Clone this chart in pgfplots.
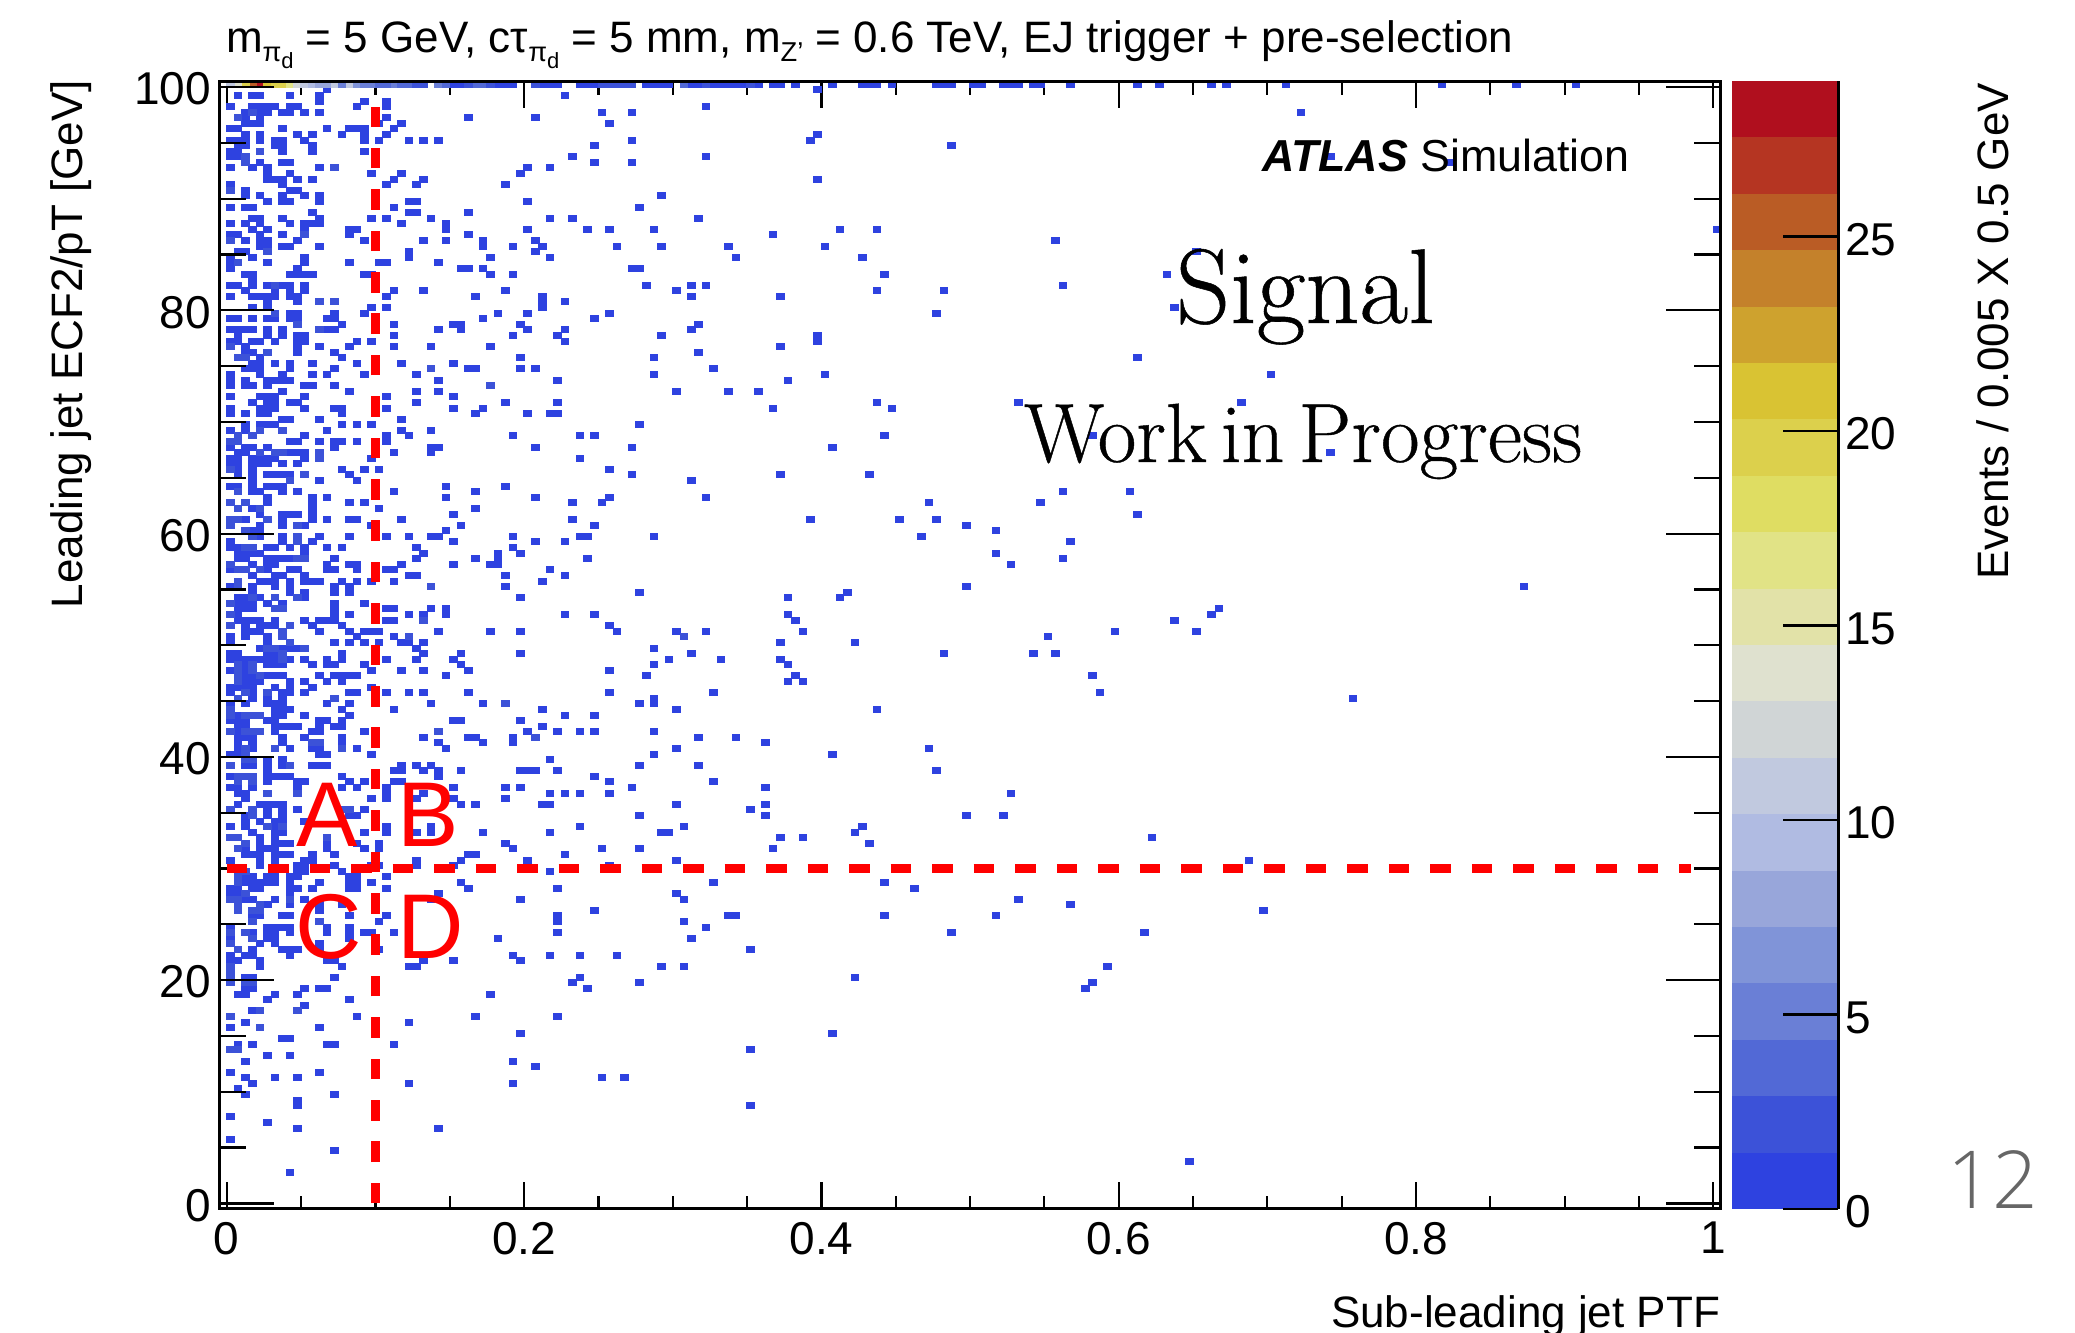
\documentclass[border=0pt]{standalone}
\usepackage{pgfplots}
\pgfplotsset{compat=1.18}
\usepackage{pgfplotstable}
\usepackage{fontspec}
\setmainfont{Liberation Sans}
\newfontfamily\didot[FakeBold=0.5,WordSpace=0.55]{Latin Modern Roman}
\newfontfamily\pagefont{Open Sans Light}
\definecolor{b1}{HTML}{2E42E0}\definecolor{b2}{HTML}{3C52D8}\definecolor{b3}{HTML}{5269D6}\definecolor{b4}{HTML}{6A7FD6}
\definecolor{b5}{HTML}{8094D8}\definecolor{b6}{HTML}{98A6DA}\definecolor{b7}{HTML}{B0BBE2}\definecolor{b8}{HTML}{C1C9DF}
\definecolor{b9}{HTML}{D0D5D6}\definecolor{b10}{HTML}{DFE1CF}\definecolor{b11}{HTML}{E2E2A8}\definecolor{b12}{HTML}{E1E386}
\definecolor{b13}{HTML}{DFDD62}\definecolor{b14}{HTML}{DCD04C}\definecolor{b15}{HTML}{D9C333}\definecolor{b16}{HTML}{CEA22E}
\definecolor{b17}{HTML}{C4812B}\definecolor{b18}{HTML}{BA5C25}\definecolor{b19}{HTML}{B53522}\definecolor{b20}{HTML}{B00F1E}
\pgfdeclareplotmark{cell}{\pgfpathrectangle{\pgfpoint{-.29pt}{-.35pt}}{\pgfpoint{4.3pt}{3.5pt}}\pgfusepathqfill}
\newcommand\cells[2]{\addplot[only marks,mark=cell,mark options={fill=#1,draw=none}] coordinates {#2};}
\newcommand\band[3]{\addplot[fill=#1,draw=none] coordinates {(0,#2)(1,#2)(1,#3)(0,#3)} --cycle;}
\newcommand\subpi{\raisebox{-.35ex}{\scalebox{.62}{π}\raisebox{-.3ex}{\scalebox{.5}{d}}}}
\pgfplotstableread{
x y
.15 100
.155 100
.18 100
.185 100
.19 100
.21 100
.215 100
.22 100
.235 100
.24 100
.245 100
.28 100
.285 100
.29 100
.295 100
.31 100
.315 100
.325 100
.33 100
.335 100
.34 100
.345 100
.355 100
.365 100
.37 100
.38 100
.405 100
.425 100
.43 100
.435 100
.445 100
.475 100
.48 100
.485 100
.5 100
.505 100
.52 100
.525 100
.53 100
.54 100
.545 100
.565 100
.61 100
.625 100
.66 100
.67 100
.71 100
.815 100
.865 100
.905 100
.065 99.5
.395 99.5
.005 99
.015 99
.02 99
.04 99
.06 99
.225 99
.06 98.5
.09 98.5
.105 98.5
0 98
.015 98
.02 98
.025 98
.03 98
.04 98
.045 98
.085 98
.105 98
.32 98
.01 97.5
.02 97.5
.025 97.5
.035 97.5
.04 97.5
.05 97.5
.06 97.5
.25 97.5
.27 97.5
.72 97.5
.01 97
.02 97
.105 97
.16 97
.205 97
.01 96.5
.015 96.5
.02 96.5
.1 96.5
.115 96.5
.255 96.5
0 96
.005 96
.035 96
.065 96
.08 96
.085 96
.09 96
.11 96
.01 95.5
.02 95.5
.045 95.5
.055 95.5
.075 95.5
.09 95.5
.105 95.5
.395 95.5
0 95
.005 95
.01 95
.02 95
.03 95
.035 95
.05 95
.09 95
.1 95
.12 95
.13 95
.14 95
.27 95
.39 95
.005 94.5
.01 94.5
.03 94.5
.035 94.5
.055 94.5
.245 94.5
.485 94.5
0 94
.005 94
.035 94
.055 94
.09 94
0 93.5
.005 93.5
.23 93.5
.32 93.5
.74 93.5
.02 93
.035 93
.04 93
.245 93
.27 93
.82 93
0 92.5
.015 92.5
.025 92.5
.06 92.5
.07 92.5
.2 92.5
.215 92.5
.025 92
.04 92
.095 92
.115 92
.195 92
.025 91.5
.03 91.5
.035 91.5
.045 91.5
.055 91.5
.11 91.5
.13 91.5
.395 91.5
0 91
.035 91
.105 91
.125 91
.185 91
.01 90.5
.04 90.5
.045 90.5
.01 90
.02 90
.035 90
.05 90
.06 90
.29 90
.025 89.5
.035 89.5
.04 89.5
.06 89.5
.12 89.5
.125 89.5
.2 89.5
0 89
.01 89
.015 89
.11 89
.275 89
.055 88.5
.12 88.5
.125 88.5
.16 88.5
.015 88
.02 88
.035 88
.06 88
.095 88
.105 88
.135 88
.215 88
.23 88
.315 88
0 87.5
.01 87.5
.02 87.5
.04 87.5
.05 87.5
.055 87.5
.06 87.5
.115 87.5
.145 87.5
.015 87
.025 87
.05 87
.08 87
.085 87
.145 87
.2 87
.24 87
.255 87
.285 87
.41 87
.435 87
1 87
0 86.5
.005 86.5
.02 86.5
.035 86.5
.08 86.5
.16 86.5
.365 86.5
.01 86
.02 86
.025 86
.045 86
.09 86
.13 86
.145 86
.17 86
.205 86
.555 86
.02 85.5
.025 85.5
.035 85.5
.04 85.5
.06 85.5
.17 85.5
.19 85.5
.21 85.5
.26 85.5
.29 85.5
.335 85.5
.4 85.5
.005 85
.01 85
.12 85
.205 85
.65 85
0 84.5
.015 84.5
.05 84.5
.12 84.5
.175 84.5
.215 84.5
.34 84.5
.425 84.5
0 84
.025 84
.05 84
.08 84
.1 84
.105 84
.14 84
0 83.5
.045 83.5
.155 83.5
.16 83.5
.17 83.5
.27 83.5
.275 83.5
.01 83
.015 83
.04 83
.045 83
.05 83
.055 83
.09 83
.095 83
.175 83
.19 83
.44 83
.63 83
.015 82.5
0 82
.005 82
.015 82
.025 82
.035 82
.04 82
.05 82
.28 82
.31 82
.32 82
.56 82
.01 81.5
.03 81.5
.04 81.5
.05 81.5
.11 81.5
.13 81.5
.185 81.5
.3 81.5
.435 81.5
.48 81.5
0 81
.015 81
.02 81
.025 81
.03 81
.04 81
.045 81
.105 81
.165 81
.21 81
.31 81
.37 81
.025 80.5
.045 80.5
.21 80.5
.225 80.5
.015 80
.025 80
.095 80
.105 80
.21 80
.635 80
.04 79.5
.045 79.5
.07 79.5
.09 79.5
.18 79.5
.2 79.5
.255 79.5
.475 79.5
0 79
.005 79
.015 79
.025 79
.03 79
.04 79
.045 79
.065 79
.07 79
.17 79
.245 79
.075 78.5
.11 78.5
.15 78.5
.155 78.5
.195 78.5
.315 78.5
0 78
.005 78
.01 78
.015 78
.025 78
.035 78
.065 78
.07 78
.14 78
.155 78
.2 78
.225 78
.31 78
.005 77.5
.025 77.5
.035 77.5
.045 77.5
.05 77.5
.11 77.5
.19 77.5
.22 77.5
.29 77.5
.395 77.5
0 77
.005 77
.015 77
.02 77
.03 77
.045 77
.05 77
.085 77
.095 77
.225 77
.395 77
.01 76.5
.045 76.5
.06 76.5
.08 76.5
.11 76.5
.135 76.5
.175 76.5
.37 76.5
.01 76
.015 76
.045 76
.07 76
.315 76
.02 75.5
.075 75.5
.195 75.5
.285 75.5
.61 75.5
.015 75
.02 75
.03 75
.04 75
.055 75
.085 75
.115 75
.15 75
.01 74.5
.015 74.5
.02 74.5
.04 74.5
.07 74.5
.16 74.5
.165 74.5
.195 74.5
.205 74.5
.325 74.5
0 74
.02 74
.035 74
.055 74
.065 74
.09 74
.125 74
.285 74
.4 74
.7 74
0 73.5
.01 73.5
.025 73.5
.03 73.5
.035 73.5
.04 73.5
.14 73.5
.22 73.5
.375 73.5
0 73
.01 73
.015 73
.025 73
.05 73
.055 73
.07 73
.035 72.5
.08 72.5
.125 72.5
.14 72.5
.3 72.5
.335 72.5
.355 72.5
0 72
.02 72
.025 72
.03 72
.05 72
.105 72
.15 72
.015 71.5
.025 71.5
.03 71.5
.04 71.5
.045 71.5
.125 71.5
.185 71.5
.22 71.5
.435 71.5
.53 71.5
.68 71.5
0 71
.02 71
.025 71
.03 71
.05 71
.07 71
.075 71
.105 71
.15 71
.17 71
.365 71
.445 71
0 70.5
.01 70.5
.02 70.5
.025 70.5
.075 70.5
.165 70.5
.2 70.5
.215 70.5
.22 70.5
.035 70
.04 70
.06 70
.115 70
.01 69.5
.02 69.5
.025 69.5
.03 69.5
.075 69.5
.085 69.5
.095 69.5
.275 69.5
0 69
.01 69
.065 69
.115 69
.135 69
.05 68.5
.105 68.5
.12 68.5
.19 68.5
.235 68.5
.245 68.5
.44 68.5
.58 68.5
.04 68
.045 68
.06 68
.07 68
.075 68
.085 68
.105 68
0 67.5
.01 67.5
.015 67.5
.025 67.5
.07 67.5
.135 67.5
.14 67.5
.205 67.5
.27 67.5
.405 67.5
.005 67
.01 67
.04 67
.045 67
.05 67
.11 67
.135 67
.74 67
0 66.5
.005 66.5
.015 66.5
.02 66.5
.025 66.5
.03 66.5
.05 66.5
.095 66.5
.235 66.5
0 66
.005 66
.015 66
.02 66
.025 66
.035 66
.045 66
.005 65.5
.015 65.5
.075 65.5
.09 65.5
.1 65.5
.255 65.5
.005 65
.015 65
.025 65
.03 65
.035 65
.04 65
.08 65
.27 65
.37 65
.43 65
.015 64.5
.06 64.5
.085 64.5
.31 64.5
0 64
.005 64
.015 64
.025 64
.03 64
.035 64
.145 64
.185 64
.035 63.5
.045 63.5
.015 63.5
.02 63.5
.11 63.5
.165 63.5
.56 63.5
.605 63.5
.025 63
.055 63
.065 63
.145 63
.205 63
.255 63
.32 63
.025 62.5
.055 62.5
.08 62.5
.09 62.5
.23 62.5
.25 62.5
.47 62.5
.545 62.5
.015 62
.055 62
.1 62
.165 62
.035 61.5
.04 61.5
.045 61.5
.02 61.5
.055 61.5
.15 61.5
.61 61.5
.005 61
.01 61
.035 61
.055 61
.065 61
.08 61
.085 61
.115 61
.23 61
.39 61
.45 61
.475 61
.02 60.5
.035 60.5
.05 60.5
.095 60.5
.155 60.5
.245 60.5
.495 60.5
.015 60
.02 60
.145 60
.515 60
.02 59.5
.035 59.5
.06 59.5
.08 59.5
.105 59.5
.12 59.5
.135 59.5
.14 59.5
.19 59.5
.235 59.5
.24 59.5
.285 59.5
.465 59.5
0 59
.035 59
.055 59
.15 59
.205 59
.225 59
.565 59
0 58.5
.005 58.5
.025 58.5
.03 58.5
.04 58.5
.05 58.5
.065 58.5
.075 58.5
.125 58.5
.19 58.5
.005 58
.01 58
.015 58
.02 58
.05 58
.13 58
.18 58
.195 58
.515 58
.005 57.5
.01 57.5
.025 57.5
.03 57.5
.035 57.5
.04 57.5
.07 57.5
.125 57.5
.165 57.5
.18 57.5
.24 57.5
.56 57.5
.015 57
.025 57
.03 57
.065 57
.08 57
.085 57
.115 57
.15 57
.175 57
.18 57
.525 57
0 56.5
.025 56.5
.04 56.5
.045 56.5
.065 56.5
.07 56.5
.085 56.5
.105 56.5
.11 56.5
.215 56.5
.015 56
.03 56
.035 56
.05 56
.12 56
.125 56
.185 56
.225 56
.02 55.5
.025 55.5
.03 55.5
.04 55.5
.05 55.5
.055 55.5
.06 55.5
.075 55.5
.085 55.5
.095 55.5
.11 55.5
.21 55.5
0 55
.015 55
.03 55
.04 55
.07 55
.08 55
.185 55
.495 55
.87 55
.015 54.5
.04 54.5
.05 54.5
.07 54.5
.08 54.5
.275 54.5
.415 54.5
.005 54
.01 54
.02 54
.05 54
.195 54
.375 54
.41 54
.005 53.5
.01 53.5
.015 53.5
.025 53.5
.035 53.5
.07 53.5
.09 53.5
.005 53
.01 53
.015 53
.035 53
.07 53
.105 53
.11 53
.135 53
.145 53
.665 53
.005 52.5
.07 52.5
.08 52.5
.12 52.5
.13 52.5
.145 52.5
.225 52.5
.245 52.5
.375 52.5
.66 52.5
.005 52
.01 52
.015 52
.02 52
.03 52
.05 52
.06 52
.065 52
.07 52
.105 52
.11 52
.38 52
.635 52
.01 51.5
.02 51.5
.025 51.5
.03 51.5
.055 51.5
.075 51.5
.255 51.5
.01 51
.015 51
.02 51
.06 51
.08 51
.09 51
.095 51
.1 51
.14 51
.175 51
.195 51
.26 51
.3 51
.32 51
.385 51
.595 51
.65 51
0 50.5
.01 50.5
.025 50.5
.085 50.5
.11 50.5
.55 50.5
0 50
.025 50
.07 50
.08 50
.09 50
.1 50
.115 50
.12 50
.13 50
.37 50
.42 50
.02 49.5
.035 49.5
.04 49.5
.045 49.5
.125 49.5
.285 49.5
0 49
.005 49
.025 49
.03 49
.075 49
.13 49
.155 49
.195 49
.31 49
.48 49
.54 49
.555 49
0 48.5
.005 48.5
.01 48.5
.015 48.5
.02 48.5
.025 48.5
.03 48.5
.04 48.5
.05 48.5
.065 48.5
.075 48.5
.105 48.5
.125 48.5
.15 48.5
.295 48.5
.33 48.5
.37 48.5
.005 48
.01 48
.025 48
.03 48
.035 48
.055 48
.065 48
.07 48
.09 48
.155 48
.285 48
.375 48
0 47.5
.01 47.5
.095 47.5
.115 47.5
.13 47.5
.16 47.5
.255 47.5
.01 47
.015 47
.025 47
.03 47
.035 47
.06 47
.07 47
.075 47
.08 47
.085 47
.145 47
.28 47
.38 47
.58 47
.01 46.5
.015 46.5
.02 46.5
.04 46.5
.05 46.5
.065 46.5
.075 46.5
.375 46.5
.385 46.5
0 46
.005 46
.01 46
.015 46
.03 46
.04 46
.055 46
.095 46
0 45.5
.015 45.5
.035 45.5
.04 45.5
.05 45.5
.08 45.5
.085 45.5
.105 45.5
.12 45.5
.13 45.5
.16 45.5
.255 45.5
.325 45.5
.585 45.5
.015 45
.025 45
.035 45
.285 45
.755 45
0 44.5
.01 44.5
.025 44.5
.03 44.5
.035 44.5
.065 44.5
.08 44.5
.135 44.5
.17 44.5
.275 44.5
.285 44.5
.03 44
.035 44
.04 44
.075 44
.11 44
.21 44
.3 44
.435 44
.005 43.5
.03 43.5
.035 43.5
.05 43.5
.08 43.5
.225 43.5
.245 43.5
0 43
.005 43
.01 43
.025 43
.03 43
.06 43
.065 43
.075 43
.15 43
.155 43
.195 43
.005 42.5
.01 42.5
.03 42.5
.035 42.5
.04 42.5
.045 42.5
.06 42.5
.07 42.5
.075 42.5
.21 42.5
.005 42
.03 42
.055 42
.06 42
.09 42
.2 42
.22 42
.235 42
.245 42
.285 42
.005 41.5
.01 41.5
.015 41.5
.035 41.5
.05 41.5
.075 41.5
.13 41.5
.16 41.5
.165 41.5
.19 41.5
.315 41.5
.34 41.5
.005 41
.015 41
.035 41
.075 41
.14 41
.17 41
.19 41
.36 41
.005 40.5
.015 40.5
.04 40.5
.055 40.5
.06 40.5
.085 40.5
.145 40.5
.3 40.5
.47 40.5
0 40
.005 40
.06 40
.065 40
.095 40
.285 40
.405 40
.025 39.5
.035 39.5
.215 39.5
.01 39
.015 39
.025 39
.035 39
.055 39
.06 39
.065 39
.115 39
.125 39
.135 39
.275 39
.315 39
.025 38.5
.11 38.5
.115 38.5
.13 38.5
.14 38.5
.155 38.5
.195 38.5
.2 38.5
.205 38.5
.22 38.5
.475 38.5
0 38
.025 38
.03 38
.035 38
.04 38
.075 38
.14 38
.245 38
.025 37.5
.045 37.5
.05 37.5
.08 37.5
.09 37.5
.11 37.5
.115 37.5
.255 37.5
.325 37.5
0 37
.005 37
.015 37
.045 37
.075 37
.085 37
.105 37
.15 37
.185 37
.195 37
.27 37
.36 37
.005 36.5
.01 36.5
.105 36.5
.13 36.5
.215 36.5
.225 36.5
.235 36.5
.255 36.5
.525 36.5
.01 36
.095 36
.105 36
.125 36
.15 36
.185 36
.005 35.5
.02 35.5
.025 35.5
.03 35.5
.035 35.5
.155 35.5
.165 35.5
.21 35.5
.215 35.5
.3 35.5
.36 35.5
.025 35
.035 35
.045 35
.09 35
.35 35
.01 34.5
.025 34.5
.035 34.5
.08 34.5
.085 34.5
.275 34.5
.36 34.5
.495 34.5
.52 34.5
.01 34
.02 34
.03 34
.035 34
.05 34
0 33.5
.01 33.5
.03 33.5
.105 33.5
.135 33.5
.235 33.5
.305 33.5
.425 33.5
.015 33
.03 33
.035 33
.09 33
.105 33
.125 33
.135 33
.17 33
.215 33
.29 33
.295 33
.42 33
.02 32.5
.03 32.5
.37 32.5
.385 32.5
.62 32.5
.02 32
.03 32
.035 32
.04 32
.065 32
.085 32
.1 32
.185 32
.43 32
.01 31.5
.02 31.5
.025 31.5
.03 31.5
.065 31.5
.09 31.5
.1 31.5
.19 31.5
.25 31.5
.275 31.5
.365 31.5
.01 31
.015 31
.02 31
.03 31
.035 31
.04 31
.055 31
.07 31
.16 31
.165 31
.225 31
0 30.5
.02 30.5
.03 30.5
.05 30.5
.055 30.5
.125 30.5
.155 30.5
.2 30.5
.3 30.5
.685 30.5
.02 30
.045 30
.05 30
.07 30
.095 30
.1 30
.125 30
.15 30
.255 30
.03 29.5
.045 29.5
.05 29.5
.075 29.5
.215 29.5
.01 29
.015 29
.025 29
.03 29
.04 29
.045 29
.08 29
.085 29
.105 29
.01 28.5
.015 28.5
.02 28.5
.025 28.5
.03 28.5
.04 28.5
.06 28.5
.08 28.5
.085 28.5
.095 28.5
.155 28.5
.325 28.5
.44 28.5
0 28
.005 28
.015 28
.02 28
.04 28
.045 28
.055 28
.08 28
.085 28
.105 28
.16 28
.22 28
.46 28
0 27.5
.005 27.5
.04 27.5
.14 27.5
.3 27.5
.01 27
.015 27
.03 27
.05 27
.135 27
.195 27
.305 27
.53 27
.025 26.5
.04 26.5
.06 26.5
.075 26.5
.565 26.5
.06 26
.245 26
.695 26
.015 25.5
.02 25.5
.035 25.5
.04 25.5
.08 25.5
.105 25.5
.22 25.5
.335 25.5
.34 25.5
.44 25.5
.515 25.5
.1 25
.22 25
.305 25
0 24.5
.025 24.5
.03 24.5
.035 24.5
.04 24.5
.065 24.5
.08 24.5
.32 24.5
.015 24
.025 24
.03 24
.04 24
.065 24
.08 24
.09 24
.095 24
.11 24
.22 24
.485 24
.615 24
0 23.5
.025 23.5
.03 23.5
.08 23.5
.18 23.5
.31 23.5
.02 23
.03 23
.06 23
.015 22.5
.035 22.5
.04 22.5
.045 22.5
.06 22.5
.1 22.5
.35 22.5
0 22
.01 22
.015 22
.04 22
.19 22
.215 22
.235 22
.26 22
0 21.5
.005 21.5
.02 21.5
.065 21.5
.07 21.5
.13 21.5
.15 21.5
.195 21.5
.02 21
.075 21
.12 21
.125 21
.29 21
.305 21
.59 21
.01 20
.015 20
.07 20
.235 20
.42 20
.23 19.5
.275 19.5
.58 19.5
.01 19
.015 19
.05 19
.06 19
.065 19
.24 19
.575 19
.005 18.5
.01 18.5
.03 18.5
.045 18.5
.175 18.5
.025 18
.08 18
.05 17.5
.015 17
.085 16.5
.165 16.5
.22 16.5
.01 16
.12 16
0 15.5
.06 15.5
.195 15
.405 15
.035 14.5
.04 14.5
.005 14
.015 14
.065 14
.07 14
.11 14
.025 13
.04 13
.35 13.5
.01 12.5
.19 12.5
.205 12
0 11.5
.06 11.5
.01 11
.03 11
.045 11
.25 11
.265 11
.015 10.5
.12 10.5
.19 10.5
.005 10
.01 9.5
.07 9.5
.045 9
.045 8.5
.35 8.5
0 7.5
.025 7
.045 6.5
.14 6.5
0 5.5
.07 4.5
.645 3.5
.04 2.5
}\tA
\pgfplotstableread{
x y
.005 97
.015 97.5
0 90.5
.01 93.5
.01 93
.02 94
.07 92.5
.05 86.5
0 86
.025 85
.005 84
.06 80.5
.07 80.5
.03 82
.03 79.5
.045 78.5
.06 78
0 76.5
.025 76
.005 75.5
.01 75.5
.135 74.5
.175 73
.02 69
.035 69
.005 68.5
.015 68.5
0 68
.005 68
.02 67
.03 67
.035 67
.06 67
.06 66.5
0 65.5
.05 65
.04 64.5
.005 63.5
0 62.5
.01 62.5
.005 62
.02 62
.005 61
0 61
.025 61
0 60.5
.045 60.5
.01 60
.015 59.5
.045 59.5
.045 59
.01 58.5
.015 58.5
.045 57.5
.05 57.5
0 57
.005 56.5
.01 56.5
.02 56.5
.005 55.5
.005 55
.135 55
.015 54
.03 54
.045 54
0 53.5
.03 53
.035 53
0 52.5
.13 52
0 51.5
.04 51.5
.035 51
.035 50.5
.12 50.5
.305 50.5
.04 50
.025 49.5
.03 49.5
.05 49.5
.035 49
.035 48.5
.005 48
.015 48
.005 47.5
.015 47.5
.005 47
.02 47
.005 46.5
.01 45.5
.025 45.5
.005 45
.07 45
.185 44.5
0 44
0 43.5
.01 43.5
.015 43.5
.02 43.5
0 42
.01 42
.015 42
.02 42
.14 42
.205 41.5
.055 41
.06 41
.01 40.5
.03 40.5
.075 40.5
.01 40
.01 39.5
.015 39.5
0 39
.04 39
.005 38
.01 38
.015 38
.005 37.5
.015 37.5
.025 36.5
.045 36.5
0 35
.015 35
.075 35
.08 35
.015 34.5
.025 33.5
.035 33.5
0 32.5
.005 32.5
.065 32.5
.01 32
.005 31.5
.01 29.5
.005 29
.005 28.5
.01 27.5
0 27
.005 27
.04 27
.005 26.5
.02 26.5
.005 26
.015 26
.02 26
.015 25
.06 25
0 24
.01 24
.015 23.5
0 23
.005 22.5
0 21
0 20.5
0 20
0 19.5
.01 19.5
.015 19.5
.02 17
.045 17
.02 15.5
0 13.5
.005 13.5
0 16.5
}\tB
\begin{document}
\begin{tikzpicture}
\path[use as bounding box] (0,0) rectangle (1037.5pt,666pt);
\begin{axis}[at={(109.65pt,61.5pt)},anchor=south west,scale only axis,width=750.75pt,height=563.75pt,
 xmin=-.005,xmax=1.005,ymin=-.5,ymax=100.5,axis on top,
 xtick={0,.2,.4,.6,.8,1},xticklabels={0,0.2,0.4,0.6,0.8,1},
 ytick=\empty,
 minor x tick num=3,tick align=inside,tick pos=both,
 major tick length=13.5pt,minor tick length=6.75pt,
 axis line style={line width=1.5pt},
 tick style={line width=1.1pt,black},
 ticklabel style={font=\fontsize{23}{27}\selectfont},
 x tick label style={yshift=-3pt},
 clip=true]
\addplot[only marks,mark=cell,mark options={fill=b1,draw=none}] table {\tA};
\addplot[only marks,mark=cell,mark options={fill=b2,draw=none}] table {\tB};
\cells{b20}{(.02,100)}
\cells{b18}{(.015,100)}
\cells{b15}{(.025,100)}
\cells{b14}{(.01,100)(.03,100)(.035,100)}
\cells{b12}{(.04,100)}
\cells{b10}{(.005,100)}
\cells{b9}{(.045,100)}
\cells{b8}{(0,100)(.05,100)(.07,100)(.08,100)}
\cells{b7}{(.055,100)}
\cells{b6}{(.06,100)(.065,100)}
\cells{b5}{(.085,100)}
\cells{b4}{(.075,100)(.09,100)(.095,100)(.11,100)(.14,100)}
\cells{b3}{(.1,100)(.105,100)(.115,100)(.12,100)(.145,100)(.165,100)(.17,100)(.305,100)}
\cells{b2}{(.125,100)(.13,100)(.16,100)(.175,100)(.205,100)(.25,100)(.255,100)(.26,100)(.265,100)(.27,100)(.32,100)(.35,100)}
\end{axis}
\begin{axis}[at={(109.65pt,61.5pt)},anchor=south west,scale only axis,width=750.75pt,height=563.75pt,
 xmin=-.005,xmax=1.005,ymin=-.5,ymax=100.5,
 xtick=\empty,ytick={0,20,40,60,80,100},yticklabels={0,20,40,60,80,100},
 minor y tick num=3,tick align=inside,tick pos=both,
 major tick length=27.5pt,minor tick length=13.5pt,
 axis line style={line width=1.5pt},
 tick style={line width=1.1pt,black},
 ticklabel style={font=\fontsize{23}{27}\selectfont},
 y tick label style={xshift=-.7pt,yshift=-1pt}]
\end{axis}
\begin{axis}[at={(109.65pt,61.5pt)},anchor=south west,scale only axis,width=750.75pt,height=563.75pt,
 xmin=-.005,xmax=1.005,ymin=-.5,ymax=100.5,hide axis,clip=false]
\addplot[red,line width=4.4pt,dash pattern=on 10.35pt off 10.4pt] coordinates {(0,30)(.985,30)};
\addplot[red,line width=4.5pt,dash pattern=on 10.35pt off 10.35pt] coordinates {(.1,0)(.1,98.2)};
\end{axis}
\begin{axis}[at={(866pt,61.5pt)},anchor=south west,scale only axis,width=53pt,height=564pt,
 xmin=0,xmax=1,ymin=0,ymax=29,axis x line=none,axis y line*=right,axis on top,
 ytick={0,5,10,15,20,25},yticklabels={0,5,10,15,20,25},tick align=inside,
 major tick length=27.5pt,axis line style={line width=1.5pt},tick style={line width=1.1pt,black},
 ticklabel style={font=\fontsize{23}{27}\selectfont},y tick label style={yshift=-1.5pt},clip=true]
\band{b1}{0}{1.47}\band{b2}{1.45}{2.92}\band{b3}{2.9}{4.37}\band{b4}{4.35}{5.82}
\band{b5}{5.8}{7.27}\band{b6}{7.25}{8.72}\band{b7}{8.7}{10.17}\band{b8}{10.15}{11.62}
\band{b9}{11.6}{13.07}\band{b10}{13.05}{14.52}\band{b11}{14.5}{15.97}\band{b12}{15.95}{17.42}
\band{b13}{17.4}{18.87}\band{b14}{18.85}{20.32}\band{b15}{20.3}{21.77}\band{b16}{21.75}{23.22}
\band{b17}{23.2}{24.67}\band{b18}{24.65}{26.12}\band{b19}{26.1}{27.57}\band{b20}{27.55}{29}
\end{axis}
\begin{scope}[yshift=666pt,x=.5pt,y=-.5pt,every node/.style={inner sep=0pt,outer sep=0pt}]
\node[anchor=base west,font=\fontsize{22}{26}\selectfont] at (226,53)
 {m\subpi{} = 5 GeV, cτ\subpi{} = 5 mm, m\raisebox{-.35ex}{\scalebox{.62}{Z'}} = 0.6 TeV, EJ trigger + pre-selection};
\node[anchor=base west,font=\fontsize{22.4}{26}\selectfont] at (1262,172) {\textbf{\textit{ATLAS}} Simulation};
\node[anchor=base west,font=\fontsize{53}{56}\selectfont\didot] at (1176,323) {Signal};
\node[anchor=base west,font=\fontsize{42}{46}\selectfont\didot] at (1024,462) {Work in Progress};
\node[anchor=base west,red,font=\fontsize{46}{50}\selectfont] at (296.7,846.7) {A};
\node[anchor=base west,red,font=\fontsize{46}{50}\selectfont] at (397,846.7) {B};
\node[anchor=base west,red,font=\fontsize{46}{50}\selectfont] at (295,959) {C};
\node[anchor=base west,red,font=\fontsize{46}{50}\selectfont] at (397,959) {D};
\node[anchor=base east,rotate=90,font=\fontsize{22}{26}\selectfont] at (82,80) {Leading jet ECF2/pT [GeV]};
\node[anchor=base east,font=\fontsize{22}{26}\selectfont] at (1720,1327) {Sub-leading jet PTF};
\node[anchor=base east,rotate=90,font=\fontsize{22}{26}\selectfont] at (2008,83) {Events / 0.005 X 0.5 GeV};
\node[anchor=base west,text=black!60,font=\fontsize{40}{44}\selectfont\pagefont] at (1947,1209) {12};
\end{scope}
\end{tikzpicture}
\end{document}
